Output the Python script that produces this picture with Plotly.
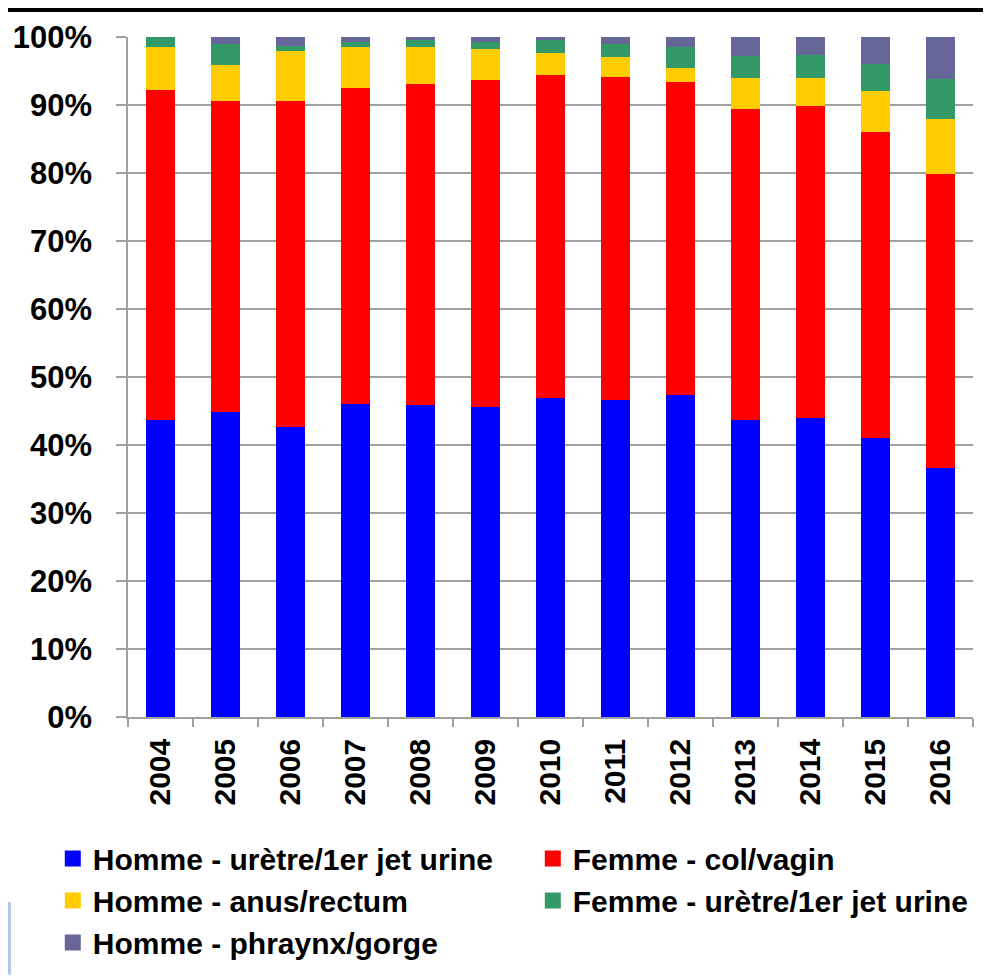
import plotly.graph_objects as go

years = ["2004", "2005", "2006", "2007", "2008", "2009", "2010",
         "2011", "2012", "2013", "2014", "2015", "2016"]

homme_uretre = [43.7, 44.9, 42.6, 46.0, 45.9, 45.6, 46.9, 46.6, 47.4, 43.7, 44.0, 41.0, 36.6]
femme_col = [48.5, 45.7, 48.0, 46.5, 47.2, 48.1, 47.5, 47.5, 46.0, 45.7, 45.8, 45.1, 43.3]
homme_anus = [6.4, 5.3, 7.4, 6.1, 5.5, 4.6, 3.3, 2.9, 2.1, 4.5, 4.1, 5.9, 8.1]
femme_uretre = [1.4, 3.0, 0.7, 0.7, 0.9, 0.9, 1.8, 1.9, 3.1, 3.3, 3.5, 4.0, 5.8]
homme_pharynx = [0.0, 1.1, 1.3, 0.7, 0.5, 0.8, 0.5, 1.1, 1.4, 2.8, 2.6, 4.0, 6.2]

series = [
    ("Homme - urètre/1er jet urine", homme_uretre, "#0000FF"),
    ("Femme - col/vagin", femme_col, "#FF0000"),
    ("Homme - anus/rectum", homme_anus, "#FFCC00"),
    ("Femme - urètre/1er jet urine", femme_uretre, "#339966"),
    ("Homme - phraynx/gorge", homme_pharynx, "#666699"),
]

FONT = "Liberation Sans, Arial, sans-serif"

fig = go.Figure()
for name, vals, col in series:
    fig.add_trace(go.Bar(x=years, y=vals, name=name, marker_color=col,
                         marker_line_width=0, showlegend=False))
for name, vals, col in series:
    fig.add_trace(go.Scatter(x=[None], y=[None], mode="markers", name=name,
                             marker=dict(symbol="square", size=16, color=col)))

fig.update_layout(
    barmode="stack",
    bargap=0.54,
    width=983, height=971,
    margin=dict(l=120, r=18, t=29, b=262, autoexpand=False),
    plot_bgcolor="white", paper_bgcolor="white",
    font=dict(family=FONT, color="black"),
    legend=dict(orientation="h", x=-0.089, y=-0.17, xanchor="left", yanchor="top",
                traceorder="normal", entrywidth=435, entrywidthmode="pixels",
                font=dict(size=30, family=FONT, weight="bold"),
                itemsizing="trace"),
)
fig.update_yaxes(range=[0, 100], dtick=10, ticksuffix="%",
                 showgrid=True, gridcolor="#a0a0a0", gridwidth=1.5,
                 showline=True, linecolor="#a0a0a0", linewidth=1.5,
                 ticks="outside", ticklen=10, tickcolor="#a0a0a0", tickwidth=1.5,
                 tickfont=dict(size=31, family=FONT, weight="bold"),
                 ticklabelstandoff=18, zeroline=False)
fig.update_xaxes(showline=True, linecolor="#a0a0a0", linewidth=1.5,
                 ticks="outside", ticklen=8, tickcolor="#a0a0a0", tickwidth=1.5,
                 tickson="boundaries", tickangle=-90,
                 tickfont=dict(size=30, family=FONT, weight="bold"),
                 ticklabelstandoff=8)

fig.add_shape(type="line", xref="paper", yref="paper",
              x0=-0.15, x1=1.03, y0=1.0405, y1=1.0405,
              line=dict(color="black", width=5))
fig.add_shape(type="rect", xref="paper", yref="paper",
              x0=-0.16, x1=-0.1385, y0=-0.379, y1=-0.272,
              fillcolor="#b4c6ea", line_width=0)

fig.write_html("out.html")
